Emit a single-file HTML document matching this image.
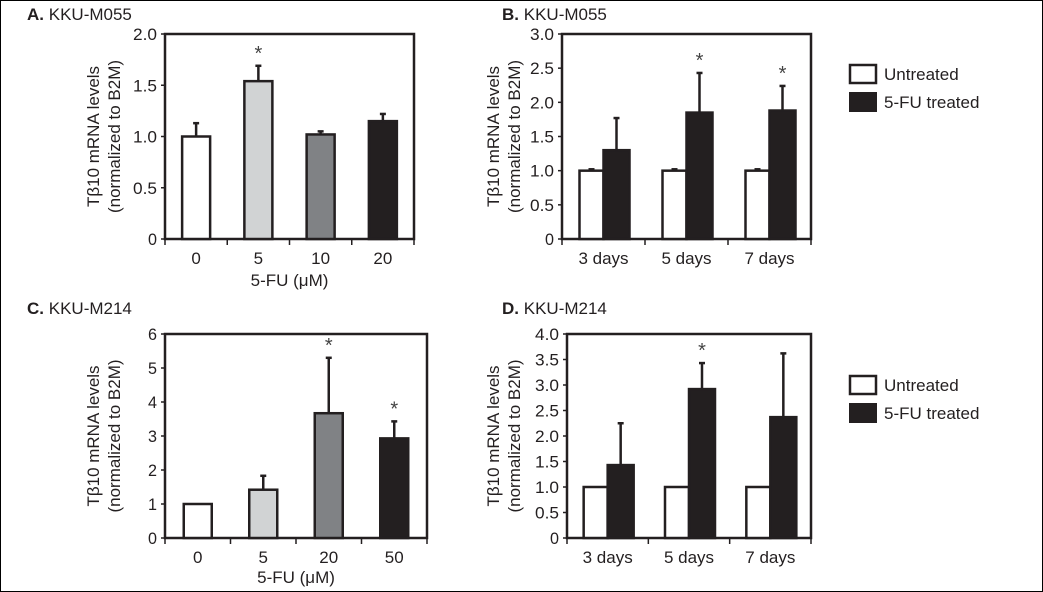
<!DOCTYPE html>
<html><head><meta charset="utf-8"><style>
html,body{margin:0;padding:0;background:#fff;}
svg{display:block;font-family:"Liberation Sans",Arial,sans-serif;}
</style></head><body>
<svg id="fig" width="1043" height="592" viewBox="0 0 1043 592">
<rect x="0.5" y="0.5" width="1042" height="591" fill="#fff" stroke="#000" stroke-width="1"/>
</svg>
<script>
// Panel A
const catsA = ["0","5","10","20"];
const valsA = [1.0, 1.54, 1.02, 1.15];
const errA = [1.13, 1.69, 1.05, 1.22];
const starA = [false, true, false, false];
const ticksA = ["0","0.5","1.0","1.5","2.0"];
// Panel C
const catsC = ["0","5","20","50"];
const valsC = [1.0, 1.42, 3.67, 2.93];
const errC = [1.0, 1.83, 5.3, 3.43];
const starC = [false, false, true, true];
const ticksC = ["0","1","2","3","4","5","6"];
// Panel B
const catsB = ["3 days","5 days","7 days"];
const untrB = [1.0, 1.0, 1.0];
const untrErrB = [1.02, 1.02, 1.02];
const treatB = [1.3, 1.85, 1.88];
const treatErrB = [1.77, 2.43, 2.24];
const starB = [false, true, true];
const ticksB = ["0","0.5","1.0","1.5","2.0","2.5","3.0"];
// Panel D
const catsD = ["3 days","5 days","7 days"];
const untrD = [1.0, 1.0, 1.0];
const untrErrD = [1.0, 1.0, 1.0];
const treatD = [1.43, 2.92, 2.37];
const treatErrD = [2.25, 3.43, 3.62];
const starD = [false, true, false];
const ticksD = ["0","0.5","1.0","1.5","2.0","2.5","3.0","3.5","4.0"];

const NS="http://www.w3.org/2000/svg";
const svg=document.getElementById('fig');
function mk(tag,attrs,parent,text){const e=document.createElementNS(NS,tag);for(const k in attrs)e.setAttribute(k,attrs[k]);if(text!==undefined)e.textContent=text;(parent||svg).appendChild(e);return e;}

function axes(g,x0,x1,y0,y1,ticks,cats,title,label,lx,xtitle,ly){
  const ymax=parseFloat(ticks[ticks.length-1]);
  const Y=v=>y1-(v/ymax)*(y1-y0);
  const frame=mk('rect',{x:x0,y:y0,width:x1-x0,height:y1-y0,fill:'none',stroke:'#231f20','stroke-width':2.5},g);
  
  
  ticks.forEach(t=>{const v=parseFloat(t);const y=Y(v);
    mk('line',{x1:x0-4,x2:x0,y1:y,y2:y,stroke:'#231f20','stroke-width':1.5},g);
    const tl=mk('text',{x:x0-8,y:y+6,'text-anchor':'end','font-size':17,fill:'#231f20',textLength:t.length>1?24:9,lengthAdjust:'spacingAndGlyphs'},g,t);
    
    
  });
  const w=(x1-x0)/cats.length;
  for(let i=0;i<=cats.length;i++){mk('line',{x1:x0+i*w,x2:x0+i*w,y1:y1,y2:y1+6,stroke:'#231f20','stroke-width':1.5},g);}
  cats.forEach((c,i)=>{const t=mk('text',{x:x0+(i+0.5)*w,y:y1+25,'text-anchor':'middle','font-size':17,fill:'#231f20'},g,c);
    
    });
  const cy=(y0+y1)/2;
  const yt=mk('text',{transform:`translate(${lx},${cy}) rotate(-90)`,'text-anchor':'middle','font-size':17,fill:'#231f20'},g);
  
  
  mk('tspan',{x:0,dy:0},yt,'Tβ10 mRNA levels');
  mk('tspan',{x:0,dy:21},yt,'(normalized to B2M)');
  const pt=mk('text',{x:title.x,y:title.y,'font-size':17,fill:'#231f20'},g);
  
  
  mk('tspan',{'font-weight':'bold'},pt,label+' ');
  mk('tspan',{},pt,title.t);
  if(xtitle){const xt=mk('text',{x:(x0+x1)/2,y:ly,'text-anchor':'middle','font-size':17,fill:'#231f20'},g,xtitle);
    
    }
  return {Y,w};
}
function bar(g,x,wid,v,e,Y,fill,star){
  const b=mk('rect',{x:x,y:Y(v),width:wid,height:Y(0)-Y(v),fill:fill,stroke:'#231f20','stroke-width':2.5},g);
  
  
  if(e>v){mk('line',{x1:x+wid/2,x2:x+wid/2,y1:Y(v),y2:Y(e),stroke:'#231f20','stroke-width':2.5},g);
    mk('line',{x1:x+wid/2-3,x2:x+wid/2+3,y1:Y(e),y2:Y(e),stroke:'#231f20','stroke-width':2.5},g);}
  if(star){const s=mk('text',{x:x+wid/2,y:Y(e)-6,'text-anchor':'middle','font-size':20,fill:'#444'},g,'*');
    
    }
}
const fills4=['#ffffff','#d1d3d4','#808285','#231f20'];
function singlePanel(name,cats,vals,errs,stars,ticks,x0,x1,y0,y1,label,title,ty,ly){
  const g=mk('g',{},svg);
  const a=axes(g,x0,x1,y0,y1,ticks,cats,{x:27,y:ty,t:title},label,99,'5-FU (μM)',ly);
  vals.forEach((v,i)=>bar(g,x0+i*a.w+a.w/2-14,28,v,errs[i],a.Y,fills4[i],stars[i]));
}
function pairPanel(name,cats,u,ue,t,te,stars,ticks,x0,x1,y0,y1,label,title,ty,legY){
  const g=mk('g',{},svg);
  const a=axes(g,x0,x1,y0,y1,ticks,cats,{x:502,y:ty,t:title},label,499,null,0);
  cats.forEach((c,i)=>{const cx=x0+(i+0.5)*a.w;
    bar(g,cx-24,24,u[i],ue[i],a.Y,'#ffffff',false);
    bar(g,cx,26,t[i],te[i],a.Y,'#231f20',stars[i]);});
  const l1=mk('rect',{x:850,y:legY,width:26,height:18,fill:'#fff',stroke:'#231f20','stroke-width':2.5},g);
  
  
  const l2=mk('rect',{x:849,y:legY+27,width:28,height:20,fill:'#231f20'},g);
  
  
  const t1=mk('text',{x:884,y:legY+15,'font-size':17,fill:'#231f20'},g,'Untreated');
  
  
  const t2=mk('text',{x:884,y:legY+43,'font-size':17,fill:'#231f20'},g,'5-FU treated');
  
  
}
singlePanel('panel-a',catsA,valsA,errA,starA,ticksA,165,414,34,239,'A.','KKU-M055',20,286);
singlePanel('panel-c',catsC,valsC,errC,starC,ticksC,165,427,334,538,'C.','KKU-M214',314,583);
pairPanel('panel-b',catsB,untrB,untrErrB,treatB,treatErrB,starB,ticksB,562,811,34,239,'B.','KKU-M055',20,65);
pairPanel('panel-d',catsD,untrD,untrErrD,treatD,treatErrD,starD,ticksD,567,811,334,538,'D.','KKU-M214',314,376);
</script>
</body></html>
